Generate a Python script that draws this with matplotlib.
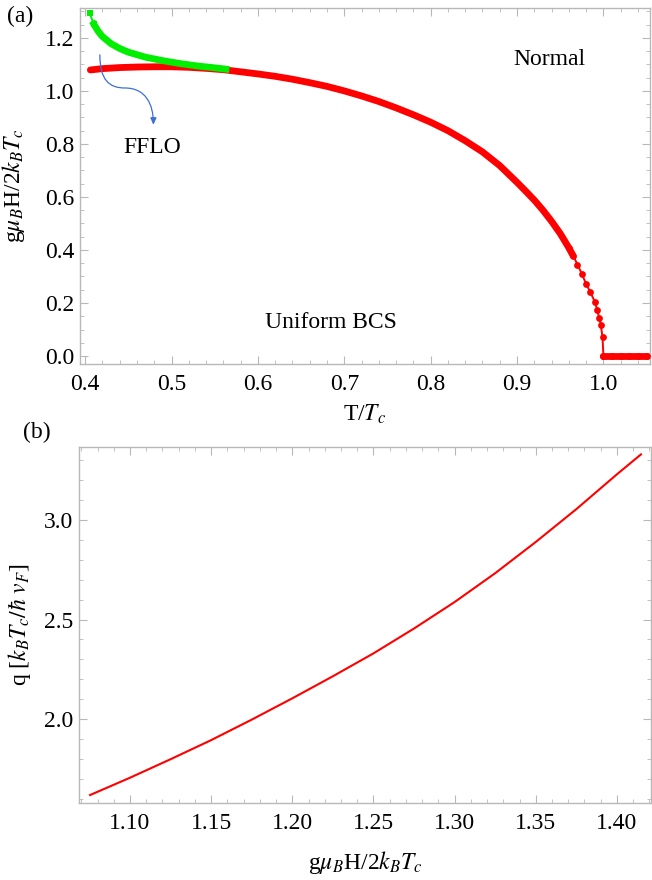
import numpy as np
import matplotlib
matplotlib.use("Agg")
from matplotlib import pyplot as plt
from matplotlib.path import Path
from matplotlib.patches import FancyArrowPatch
from matplotlib.ticker import MultipleLocator

plt.rcParams['font.family'] = ['Liberation Serif', 'DejaVu Serif']
plt.rcParams['mathtext.fontset'] = 'stix'

# (a) uniform BCS critical field (red) and FFLO branch (green)
t_bcs = [0.406, 0.42, 0.44, 0.46, 0.48, 0.50, 0.52, 0.54, 0.56, 0.58, 0.60,
         0.62, 0.64, 0.66, 0.68, 0.70, 0.72, 0.74, 0.76, 0.78, 0.80, 0.82,
         0.84, 0.86, 0.88, 0.90, 0.91, 0.92, 0.93, 0.94, 0.95, 0.96, 0.965,
         0.97, 0.975, 0.98, 0.985, 0.99, 0.993, 0.995, 0.997, 0.999, 1.0]
h_bcs = [1.079, 1.084, 1.088, 1.090, 1.091, 1.091, 1.089, 1.085, 1.080, 1.072,
         1.064, 1.055, 1.044, 1.031, 1.017, 1.000, 0.981, 0.960, 0.936, 0.910,
         0.882, 0.850, 0.812, 0.770, 0.718, 0.655, 0.622, 0.588, 0.550, 0.508,
         0.462, 0.408, 0.378, 0.345, 0.310, 0.272, 0.240, 0.205, 0.172, 0.145,
         0.118, 0.070, 0.0]
t_normal = [1.0, 1.01, 1.02, 1.03, 1.04, 1.05]
h_normal = [0.0, 0.0, 0.0, 0.0, 0.0, 0.0]

t_fflo = [0.405, 0.41, 0.415, 0.42, 0.43, 0.44, 0.45, 0.47, 0.49, 0.51,
          0.53, 0.55, 0.563]
h_fflo = [1.294, 1.252, 1.225, 1.205, 1.178, 1.160, 1.146, 1.127, 1.114,
          1.103, 1.094, 1.087, 1.082]

# (b) FFLO wave vector vs field
h_q = [1.0754, 1.10, 1.125, 1.15, 1.175, 1.20, 1.225, 1.25, 1.275, 1.30,
       1.325, 1.35, 1.375, 1.40, 1.4148]
q_vals = [1.618, 1.705, 1.798, 1.894, 1.997, 2.104, 2.215, 2.33, 2.455, 2.588,
          2.733, 2.89, 3.055, 3.23, 3.33]

red = '#ff0000'
green = '#00ee00'
frame = '#b8b8b8'
fs = 17

fig = plt.figure(figsize=(6.52, 8.8), dpi=100)
ax1 = fig.add_axes([0.1227, 0.5864, 0.8743, 0.4046])
ax2 = fig.add_axes([0.1212, 0.0875, 0.8773, 0.4045])


def style(ax):
    for s in ax.spines.values():
        s.set_color(frame)
        s.set_linewidth(1.0)
    ax.tick_params(which='both', direction='in', top=True, right=True,
                   color=frame, labelsize=fs, labelcolor='black')
    ax.tick_params(which='major', length=6, width=0.8)
    ax.tick_params(which='minor', length=3, width=0.6)
    ax.tick_params(axis='x', which='major', pad=7)
    ax.tick_params(axis='y', which='major', pad=4)


# panel (a)
band = 4.9
n_band = t_bcs.index(0.97)
ax1.plot(t_bcs[:n_band], h_bcs[:n_band], color=red, lw=band,
         solid_capstyle='round', zorder=2)
ax1.plot(t_bcs[n_band - 2:] + t_normal, h_bcs[n_band - 2:] + h_normal,
         color=red, lw=1.4, marker='o', ms=band, mec=red, mew=0, zorder=3)
ax1.plot(t_normal, h_normal, color=red, lw=band, solid_capstyle='round',
         zorder=3)
ax1.plot(t_fflo[1:], h_fflo[1:], color=green, lw=band, zorder=4)
ax1.plot(t_fflo[:2], h_fflo[:2], color=green, lw=1.4, marker='s', ms=4.6,
         mec=green, mew=0, zorder=4)

ax1.set_xlim(0.394, 1.054)
ax1.set_ylim(-0.03, 1.313)
ax1.xaxis.set_major_locator(MultipleLocator(0.1))
ax1.xaxis.set_minor_locator(MultipleLocator(0.02))
ax1.yaxis.set_major_locator(MultipleLocator(0.2))
ax1.yaxis.set_minor_locator(MultipleLocator(0.05))
ax1.xaxis.set_major_formatter(plt.FuncFormatter(lambda v, p: f"{v:.1f}"))
ax1.yaxis.set_major_formatter(plt.FuncFormatter(lambda v, p: f"{v:.1f}"))
style(ax1)
ax1.set_xlabel(r"T/$T_c$", fontsize=fs)
ax1.set_ylabel(r"g$\mu_B$H/2$k_B T_c$", fontsize=fs)
ax1.xaxis.set_label_coords(0.5, -0.108)
ax1.yaxis.set_label_coords(-0.093, 0.5)

ax1.text(0.478, 0.785, "FFLO", fontsize=fs, ha='center', va='center')
ax1.text(0.937, 1.117, "Normal", fontsize=fs, ha='center', va='center')
ax1.text(0.684, 0.128, "Uniform BCS", fontsize=fs, ha='center', va='center')

verts = [(0.417, 1.136), (0.417, 1.04), (0.428, 1.011), (0.446, 1.011),
         (0.470, 1.011), (0.479, 0.95), (0.479, 0.872)]
codes = [Path.MOVETO] + [Path.CURVE4] * 6
arrow = FancyArrowPatch(path=Path(verts, codes),
                        arrowstyle='-|>,head_length=4,head_width=1.8',
                        color='#3d6fd6', lw=0.9, zorder=5)
ax1.add_patch(arrow)

fig.text(0.011, 0.981, "(a)", fontsize=fs, va='center')

# panel (b)
ax2.plot(h_q, q_vals, color=red, lw=1.5)
ax2.set_xlim(1.0686, 1.421)
ax2.set_ylim(1.578, 3.367)
ax2.xaxis.set_major_locator(MultipleLocator(0.05))
ax2.xaxis.set_minor_locator(MultipleLocator(0.01))
ax2.yaxis.set_major_locator(MultipleLocator(0.5))
ax2.yaxis.set_minor_locator(MultipleLocator(0.1))
ax2.xaxis.set_major_formatter(plt.FuncFormatter(lambda v, p: f"{v:.2f}"))
ax2.yaxis.set_major_formatter(plt.FuncFormatter(lambda v, p: f"{v:.1f}"))
style(ax2)
ax2.set_xlabel(r"g$\mu_B$H/2$k_B T_c$", fontsize=fs)
ax2.set_ylabel(r"q [$k_B T_c/\hbar\ v_F$]", fontsize=fs)
ax2.xaxis.set_label_coords(0.5, -0.13)
ax2.yaxis.set_label_coords(-0.08, 0.5)

fig.text(0.035, 0.5085, "(b)", fontsize=fs, va='center')

fig.savefig("out.png", dpi=100)
